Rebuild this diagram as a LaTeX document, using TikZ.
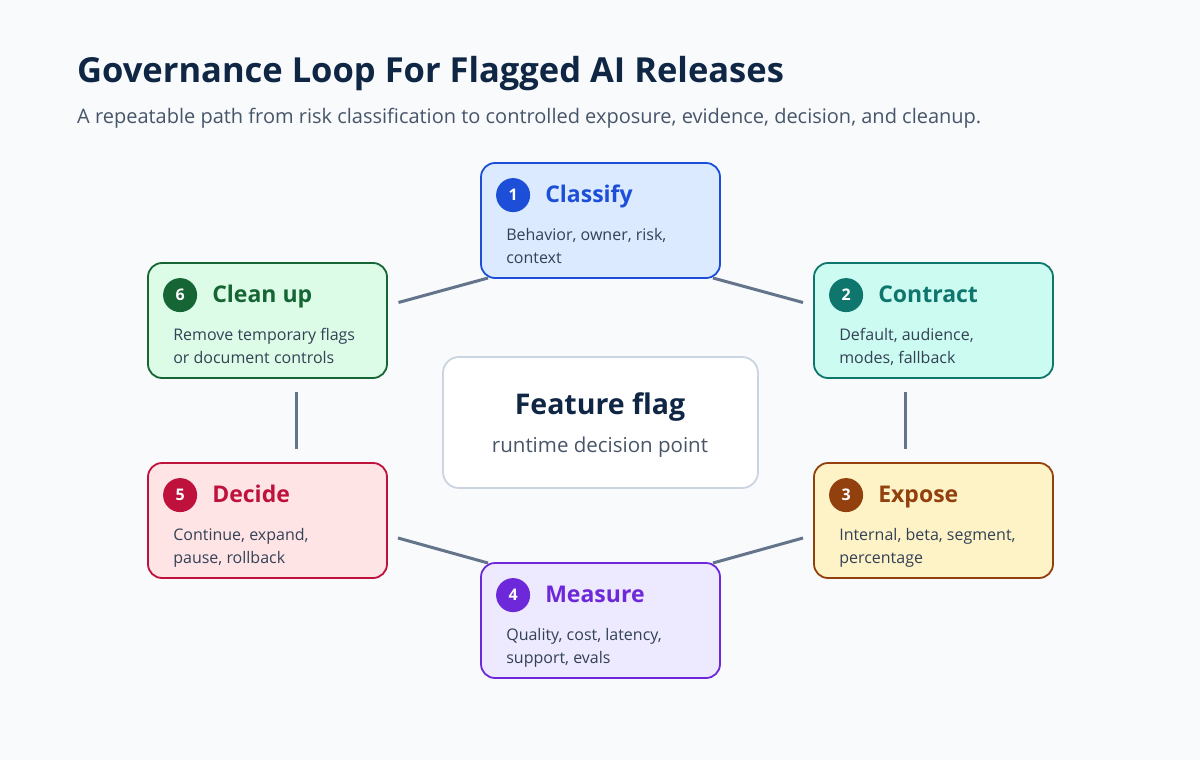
\documentclass[tikz,border=0pt]{standalone}
\usepackage{fontspec}
\setmainfont{Open Sans}
\usetikzlibrary{calc}
\definecolor{bgcol}{HTML}{F8FAFC}
\definecolor{inkcol}{HTML}{0F2744}
\definecolor{subcol}{HTML}{475569}
\definecolor{bodycol}{HTML}{334155}
\definecolor{linkcol}{HTML}{64748B}
\definecolor{centreline}{HTML}{CBD5E1}
\definecolor{blueline}{HTML}{1D4ED8}\definecolor{bluefill}{HTML}{DBEAFE}
\definecolor{tealline}{HTML}{0F766E}\definecolor{tealfill}{HTML}{CCFBF1}
\definecolor{amberline}{HTML}{92400E}\definecolor{amberfill}{HTML}{FEF3C7}
\definecolor{violetline}{HTML}{6D28D9}\definecolor{violetfill}{HTML}{EDE9FE}
\definecolor{roseline}{HTML}{BE123C}\definecolor{rosefill}{HTML}{FFE4E6}
\definecolor{greenline}{HTML}{166534}\definecolor{greenfill}{HTML}{DCFCE7}

\tikzset{
  card/.style={draw=#1line, fill=#1fill, line width=1.8pt, rounded corners=14pt,
    minimum width=239pt, minimum height=115pt, inner sep=0pt},
  badge/.style={circle, fill=#1line, minimum size=34pt, inner sep=0pt,
    text=white, font=\fontsize{16}{16}\selectfont\bfseries},
  cardtitle/.style={anchor=base west, inner sep=0pt, text=#1line,
    font=\fontsize{23}{23}\selectfont\bfseries},
  cardbody/.style={anchor=north west, inner sep=0pt, align=left, text=bodycol,
    font=\fontsize{16}{23}\selectfont},
  link/.style={draw=linkcol, line width=3pt}
}

\begin{document}
\begin{tikzpicture}[x=1pt, y=-1pt]
  \fill[bgcol] (0,0) rectangle (1200,760);
  \useasboundingbox (0,0) rectangle (1200,760);

  % heading
  \node[anchor=base west, inner sep=0pt, text=inkcol, font=\fontsize{34.5}{34.5}\selectfont\bfseries]
    (title) at (77,83) {Governance Loop For Flagged AI Releases};
  \node[anchor=base west, inner sep=0pt, text=subcol, font=\fontsize{20}{20}\selectfont]
    (subtitle) at (77,124) {A repeatable path from risk classification to controlled exposure, evidence, decision, and cleanup.};

  % connectors (under the cards)
  \coordinate (classifyc) at (600.5,220.5);
  \coordinate (contractc) at (933.5,320.5);
  \coordinate (exposec) at (933.5,520.5);
  \coordinate (measurec) at (600.5,620.5);
  \coordinate (decidec) at (267.5,520.5);
  \coordinate (cleanupc) at (267.5,320.5);
  \draw[link] ($(cleanupc)+(131,-18)$) -- ($(classifyc)+(-112.5,57.5)$);
  \draw[link] ($(classifyc)+(112.5,57.5)$) -- ($(contractc)+(-130.5,-18)$);
  \draw[link] ($(contractc)+(-28.5,71.5)$) -- ($(exposec)+(-28.5,-71.5)$);
  \draw[link] ($(exposec)+(-130.5,17.5)$) -- ($(measurec)+(112.5,-57.5)$);
  \draw[link] ($(measurec)+(-112.5,-57.5)$) -- ($(decidec)+(130.5,17.5)$);
  \draw[link] ($(decidec)+(28.5,-71.5)$) -- ($(cleanupc)+(28.5,71.5)$);

  % centre
  \node[draw=centreline, fill=white, line width=1.8pt, rounded corners=16pt,
    minimum width=315pt, minimum height=131pt] (flag) at (600.5,422.5) {};
  \node[text=inkcol, font=\fontsize{28.5}{28.5}\selectfont\bfseries] (flagtitle) at (600,407) {Feature flag};
  \node[text=subcol, font=\fontsize{20.5}{20.5}\selectfont] (flagsub) at (600,447) {runtime decision point};

  % 1 classify
  \node[card=blue] (classify) at (classifyc) {};
  \node[badge=blue] (b1) at ($(classify.north west)+(33,33)$) {1};
  \node[cardtitle=blue] (t1) at ($(classify.north west)+(65,40)$) {Classify};
  \node[cardbody] (d1) at ($(classify.north west)+(26,66)$) {Behavior, owner, risk,\\context};

  % 2 contract
  \node[card=teal] (contract) at (contractc) {};
  \node[badge=teal] (b2) at ($(contract.north west)+(33,33)$) {2};
  \node[cardtitle=teal] (t2) at ($(contract.north west)+(65,40)$) {Contract};
  \node[cardbody] (d2) at ($(contract.north west)+(26,66)$) {Default, audience,\\modes, fallback};

  % 3 expose
  \node[card=amber] (expose) at (exposec) {};
  \node[badge=amber] (b3) at ($(expose.north west)+(33,33)$) {3};
  \node[cardtitle=amber] (t3) at ($(expose.north west)+(65,40)$) {Expose};
  \node[cardbody] (d3) at ($(expose.north west)+(26,66)$) {Internal, beta, segment,\\percentage};

  % 4 measure
  \node[card=violet] (measure) at (measurec) {};
  \node[badge=violet] (b4) at ($(measure.north west)+(33,33)$) {4};
  \node[cardtitle=violet] (t4) at ($(measure.north west)+(65,40)$) {Measure};
  \node[cardbody] (d4) at ($(measure.north west)+(26,66)$) {Quality, cost, latency,\\support, evals};

  % 5 decide
  \node[card=rose] (decide) at (decidec) {};
  \node[badge=rose] (b5) at ($(decide.north west)+(33,33)$) {5};
  \node[cardtitle=rose] (t5) at ($(decide.north west)+(65,40)$) {Decide};
  \node[cardbody] (d5) at ($(decide.north west)+(26,66)$) {Continue, expand,\\pause, rollback};

  % 6 clean up
  \node[card=green] (cleanup) at (cleanupc) {};
  \node[badge=green] (b6) at ($(cleanup.north west)+(33,33)$) {6};
  \node[cardtitle=green] (t6) at ($(cleanup.north west)+(65,40)$) {Clean up};
  \node[cardbody] (d6) at ($(cleanup.north west)+(26,66)$) {Remove temporary flags\\or document controls};
\end{tikzpicture}
\end{document}
